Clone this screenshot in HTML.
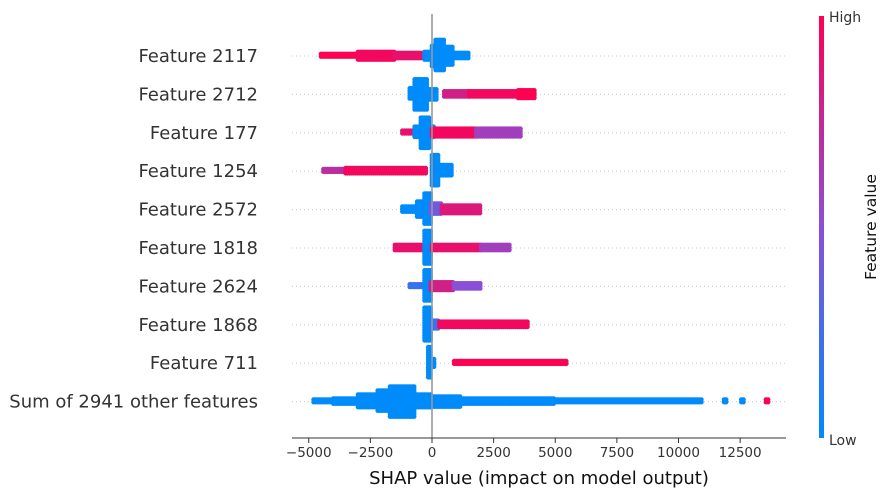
<!DOCTYPE html>
<html><head><meta charset="utf-8"><style>
body{margin:0;background:#fff;font-family:"DejaVu Sans","Liberation Sans",sans-serif}
</style></head><body>
<svg id="chart" width="891" height="497" xmlns="http://www.w3.org/2000/svg" style="display:block;font-family:'DejaVu Sans','Liberation Sans',sans-serif">
<defs><linearGradient id="cb" x1="0" y1="1" x2="0" y2="0">
<stop offset="0" stop-color="#008bfb"/><stop offset="0.5" stop-color="#8a4fd8"/><stop offset="1" stop-color="#ff0052"/></linearGradient></defs>
<g id="grid"></g><g id="dots"></g><g id="axes"></g>
</svg>
<script>
const features=["Feature 2117","Feature 2712","Feature 177","Feature 1254","Feature 2572","Feature 1818","Feature 2624","Feature 1868","Feature 711","Sum of 2941 other features"];
const xTicks=[-5000,-2500,0,2500,5000,7500,10000,12500];
// segments per row: [fromValue, toValue, halfHeightPx, featureValue(0 low..1 high)]
const row0=[[-4500,-3000,2,1],[-3000,-1500,4,0.95],[-1500,-400,3,0.9],[-300,0,4,0],[0,200,10,0],[150,500,16,0],[500,900,9,0],[900,1500,3,0]];
const row1=[[-900,-600,6,0],[-700,-150,15,0],[-150,200,5,0],[500,1500,3,0.8],[1500,3500,3,0.95],[3500,4200,4,1]];
const row2=[[-1200,-700,2,0.9],[-700,-450,6,0],[-450,-100,15,0],[-100,100,6,0],[0,1800,4,0.95],[1800,3600,4,0.6]];
const row3=[[-4400,-3500,2,0.7],[-3500,-200,3,0.95],[0,300,16,0],[300,800,6,0]];
const row4=[[-1200,-600,3,0],[-600,-300,8,0],[-300,-50,16,0],[-50,400,6,0.4],[400,2000,4,0.85]];
const row5=[[-1500,-300,3,0.9],[-300,-50,17,0],[0,2000,3,0.9],[2000,3200,3,0.6]];
const row6=[[-900,-300,2,0.2],[-300,-50,16,0],[-50,900,4,0.8],[900,2000,3,0.5]];
const row7=[[-300,-50,17,0],[0,300,4,0.2],[300,3900,3,0.95]];
const row8=[[-150,0,16,0],[0,100,4,0],[900,5500,2,1]];
const row9=[[-4800,-4000,2,0],[-4000,-3000,3,0],[-3000,-2200,7,0],[-2200,-1700,11,0],[-1700,-700,15,0],[-700,0,7,0],[0,1200,5,0],[1200,5000,3,0],[5000,11000,2,0],[11850,11950,2,0],[12550,12650,2,0],[13550,13650,2,1]];
const rows=[row0,row1,row2,row3,row4,row5,row6,row7,row8,row9];

const NS="http://www.w3.org/2000/svg";
const x0=432,k=0.02465;
const xs=v=>x0+v*k;
const rowY=i=>56+i*38.4;
function color(t){const a=[0,139,251],m=[138,79,216],b=[255,0,82];let c;
 if(t<0.5){const u=t/0.5;c=a.map((v,j)=>v+(m[j]-v)*u);}else{const u=(t-0.5)/0.5;c=m.map((v,j)=>v+(b[j]-v)*u);}
 return "rgb("+c.map(Math.round).join(",")+")";}
function mk(tag,attrs,parent){const e=document.createElementNS(NS,tag);for(const a in attrs)e.setAttribute(a,attrs[a]);parent.appendChild(e);return e;}
const grid=document.getElementById("grid"),dots=document.getElementById("dots"),axes=document.getElementById("axes");
features.forEach((f,i)=>{
 const y=rowY(i);
 const g=mk("line",{x1:292,x2:786,y1:y,y2:y,stroke:"#ccc","stroke-width":1,"stroke-dasharray":"1,3"},grid);
 
 
 const t=mk("text",{x:258,y:y+6,"text-anchor":"end","font-size":18,fill:"#333"},axes);
 t.textContent=f;
 
 
 const grp=mk("g",{},dots);
 
 
 rows[i].forEach(s=>{
  const a=xs(s[0]),b=xs(s[1]),col=color(s[3]);
  for(let px=a;px<=b+0.01;px+=2){
   for(let dy=-s[2];dy<=s[2]+0.01;dy+=2.5){
    mk("circle",{cx:px.toFixed(1),cy:(y+dy).toFixed(1),r:2.4,fill:col},grp);
   }
  }
 });
});
const zl=mk("line",{x1:x0,x2:x0,y1:14,y2:438,stroke:"#999","stroke-width":1.6},axes);


const ax=mk("line",{x1:292,x2:786,y1:438,y2:438,stroke:"#333","stroke-width":1},axes);


xTicks.forEach(v=>{
 const tk=mk("line",{x1:xs(v),x2:xs(v),y1:438,y2:443,stroke:"#333"},axes);
 
 
 const tl=mk("text",{x:xs(v),y:457,"text-anchor":"middle","font-size":13.5,fill:"#333"},axes);
 tl.textContent=v<0?"\u2212"+Math.abs(v):String(v);
 
 
});
const xt=mk("text",{x:539,y:484,"text-anchor":"middle","font-size":18,fill:"#111"},axes);
xt.textContent="SHAP value (impact on model output)";


const cb=mk("rect",{x:819,y:16,width:5,height:422,fill:"url(#cb)"},axes);


const hi=mk("text",{x:829,y:22,"font-size":14,fill:"#333"},axes);hi.textContent="High";


const lo=mk("text",{x:829,y:445,"font-size":14,fill:"#333"},axes);lo.textContent="Low";


const fv=mk("text",{x:876,y:227,"text-anchor":"middle","font-size":15.5,fill:"#111",transform:"rotate(-90 876 227)"},axes);
fv.textContent="Feature value";


</script>
</body></html>
